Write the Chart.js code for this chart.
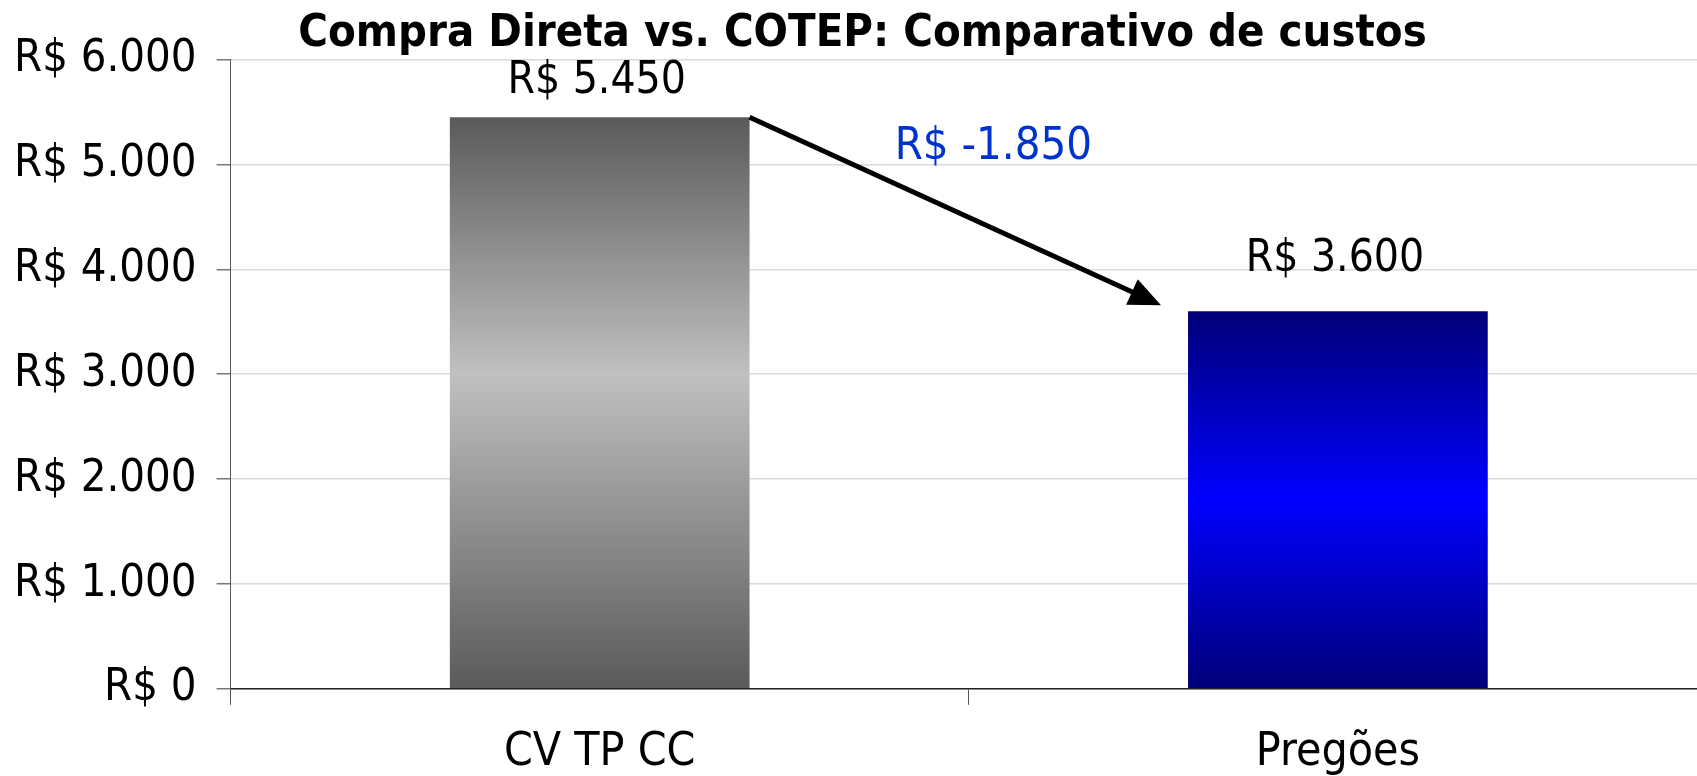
<!DOCTYPE html>
<html>
<head>
<meta charset="utf-8">
<script src="https://cdn.jsdelivr.net/npm/chart.js@4/dist/chart.umd.min.js"></script>
<style>
  html, body { margin: 0; padding: 0; background: #fff; overflow: hidden; }
  #wrap { width: 1707px; height: 776px; position: relative; }
</style>
</head>
<body>
<div id="wrap"><canvas id="chart"></canvas></div>
<script>
// Data
const categories = ['CV TP CC', 'Pregões'];
const costs = [5450, 3600];
const yTicks = [0, 1000, 2000, 3000, 4000, 5000, 6000];

const FONT = "'DejaVu Sans Condensed', 'DejaVu Sans', sans-serif";

// R$ 5.450 style
function brl(n) {
    const s = Math.abs(n).toString().replace(/\B(?=(\d{3})+(?!\d))/g, '.');
    return 'R$ ' + (n < 0 ? '-' : '') + s;
}

// vertical gradient per bar: dark at the ends, light in the middle
const barStops = [
    ['#5a5a5a', '#c0c0c0', 0.45],
    ['#000078', '#0000ff', 0.5]
];
function barFill(ctx) {
    const chart = ctx.chart;
    if (!chart.chartArea) return barStops[ctx.dataIndex][0];
    const y = chart.scales.y;
    const top = y.getPixelForValue(ctx.raw);
    const bottom = y.getPixelForValue(0);
    const [dark, light, mid] = barStops[ctx.dataIndex];
    const g = chart.ctx.createLinearGradient(0, top, 0, bottom);
    g.addColorStop(0, dark);
    g.addColorStop(mid, light);
    g.addColorStop(1, dark);
    return g;
}

// value labels, arrow and difference label
const annotations = {
    id: 'annotations',
    afterLayout(chart) {
        // title sits a little right of the canvas centre
        if (chart.titleBlock) chart.titleBlock.left += 24;
    },
    afterDatasetsDraw(chart) {
        const c = chart.ctx;
        const bars = chart.getDatasetMeta(0).data;
        const area = chart.chartArea;
        c.save();
        c.font = '44px ' + FONT;
        c.fillStyle = '#000';
        c.textAlign = 'center';
        c.textBaseline = 'middle';
        bars.forEach((b, i) => {
            const y = Math.max(b.y - 52, area.top + 22);
            c.fillText(brl(costs[i]), b.x - 3, y);
        });

        // arrow from top-right of first bar to near the second bar
        const a = bars[0], b = bars[1];
        const x1 = a.x + a.width / 2, y1 = a.y;
        const x2 = b.x - b.width / 2 - 27, y2 = b.y - 6;
        const ang = Math.atan2(y2 - y1, x2 - x1);
        const head = 32, half = 14;
        c.strokeStyle = '#000';
        c.lineWidth = 5;
        c.beginPath();
        c.moveTo(x1, y1);
        c.lineTo(x2 - Math.cos(ang) * head * 0.8, y2 - Math.sin(ang) * head * 0.8);
        c.stroke();
        c.beginPath();
        c.moveTo(x2, y2);
        c.lineTo(x2 - Math.cos(ang) * head + Math.sin(ang) * half, y2 - Math.sin(ang) * head - Math.cos(ang) * half);
        c.lineTo(x2 - Math.cos(ang) * head - Math.sin(ang) * half, y2 - Math.sin(ang) * head + Math.cos(ang) * half);
        c.closePath();
        c.fillStyle = '#000';
        c.fill();

        // difference
        c.fillStyle = '#0033cc';
        c.font = '45px ' + FONT;
        c.fillText(brl(costs[1] - costs[0]), (x1 + x2) / 2 + 38, (y1 + y2) / 2 - 64);
        c.restore();
    }
};

new Chart(document.getElementById('chart'), {
    type: 'bar',
    data: {
        labels: categories,
        datasets: [{
            data: costs,
            backgroundColor: barFill,
            borderWidth: 0,
            barPercentage: 0.406,
            categoryPercentage: 1
        }]
    },
    options: {
        responsive: true,
        maintainAspectRatio: false,
        animation: false,
        layout: { padding: { left: -6, right: 0, top: 0, bottom: -25 } },
        plugins: {
            legend: { display: false },
            tooltip: { enabled: false },
            title: {
                display: true,
                text: 'Compra Direta vs. COTEP: Comparativo de custos',
                color: '#000',
                font: { family: FONT, size: 45, weight: 'bold' },
                padding: { top: 7, bottom: -1.5 }
            }
        },
        scales: {
            x: {
                grid: {
                    display: true,
                    drawOnChartArea: false,
                    offset: true,
                    tickLength: 16,
                    tickColor: '#555',
                    lineWidth: 1
                },
                border: { color: '#222', width: 1.5 },
                ticks: {
                    color: '#000',
                    padding: 20.5,
                    font: { family: FONT, size: 46 }
                }
            },
            y: {
                min: 0,
                max: 6000,
                afterBuildTicks(axis) {
                    axis.ticks = yTicks.map(v => ({ value: v }));
                },
                grid: {
                    color: '#d9d9d9',
                    lineWidth: 1.5,
                    tickColor: '#777',
                    tickLength: 14
                },
                border: { color: '#555', width: 1 },
                ticks: {
                    color: '#000',
                    padding: 20,
                    font: { family: FONT, size: 45 },
                    callback: v => brl(v)
                }
            }
        }
    },
    plugins: [annotations]
});
</script>
</body>
</html>
